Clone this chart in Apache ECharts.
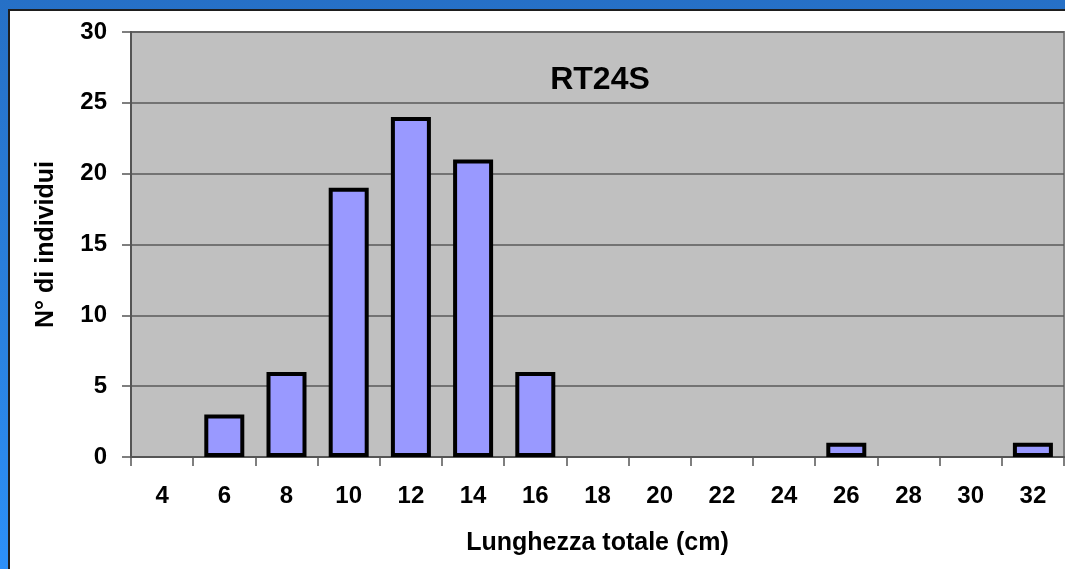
<!DOCTYPE html>
<html>
<head>
<meta charset="utf-8">
<script src="https://cdn.jsdelivr.net/npm/echarts@6/dist/echarts.min.js"></script>
<style>
  html, body { margin: 0; padding: 0; }
  #wrap { position: relative; width: 1065px; height: 569px; overflow: hidden;
          background: linear-gradient(180deg, #2670c6 0%, #2a82e0 60%, #2c90f8 100%); }
  #panel { position: absolute; left: 8px; top: 9px; width: 1100px; height: 600px;
           background: #ffffff; border-left: 2px solid #1e1e1e; border-top: 2px solid #1e1e1e; }
  #chart { position: absolute; left: 0; top: 0; width: 1065px; height: 569px; }
</style>
</head>
<body>
<div id="wrap"><div id="panel"></div><div id="chart"></div></div>
<script>
// Data
const chartTitle = 'RT24S';
const xAxisTitle = 'Lunghezza totale (cm)';
const yAxisTitle = 'N° di individui';
const categories = ['4', '6', '8', '10', '12', '14', '16', '18', '20', '22', '24', '26', '28', '30', '32'];
const counts = [0, 3, 6, 19, 24, 21, 6, 0, 0, 0, 0, 1, 0, 0, 1];
const yMin = 0;
const yMax = 30;
const yStep = 5;

const FONT = 'Liberation Sans, Arial, sans-serif';
const chart = echarts.init(document.getElementById('chart'), null, { renderer: 'canvas' });

chart.setOption({
  backgroundColor: 'transparent',
  animation: false,
  graphic: [{
    type: 'text',
    x: 600,
    y: 80,
    z: 100,
    style: {
      text: chartTitle,
      font: 'bold 32px ' + FONT,
      fill: '#000',
      textAlign: 'center',
      textVerticalAlign: 'middle'
    }
  }],
  grid: {
    left: 131, right: 1, top: 32, bottom: 112,
    show: true,
    backgroundColor: '#c0c0c0',
    borderColor: '#808080',
    borderWidth: 2
  },
  xAxis: {
    type: 'category',
    data: categories,
    boundaryGap: true,
    name: xAxisTitle,
    nameLocation: 'middle',
    nameGap: 74,
    nameTextStyle: { fontFamily: FONT, fontWeight: 'bold', fontSize: 25, color: '#000' },
    axisLine: { show: true, lineStyle: { color: '#555', width: 2 } },
    axisTick: { show: true, length: 9, alignWithLabel: false, interval: 0, lineStyle: { color: '#555', width: 1.5 } },
    axisLabel: { interval: 0, margin: 27, fontFamily: FONT, fontWeight: 'bold', fontSize: 24, color: '#000' },
    splitLine: { show: false }
  },
  yAxis: {
    type: 'value',
    min: yMin, max: yMax, interval: yStep,
    name: yAxisTitle,
    nameLocation: 'middle',
    nameGap: 72,
    nameTextStyle: { fontFamily: FONT, fontWeight: 'bold', fontSize: 25, color: '#000' },
    axisLine: { show: true, lineStyle: { color: '#555', width: 2 } },
    axisTick: { show: true, length: 9, lineStyle: { color: '#555', width: 1.5 } },
    axisLabel: { margin: 24, fontFamily: FONT, fontWeight: 'bold', fontSize: 24, color: '#000' },
    splitLine: { show: true, lineStyle: { color: '#5a5a5a', width: 1.5 } }
  },
  series: [{
    type: 'bar',
    data: counts.map(v => (v === 0 ? '-' : v)),
    barWidth: 40,
    itemStyle: { color: '#9999ff', borderColor: '#000', borderWidth: 4 },
    emphasis: { disabled: true }
  }]
});
</script>
</body>
</html>
